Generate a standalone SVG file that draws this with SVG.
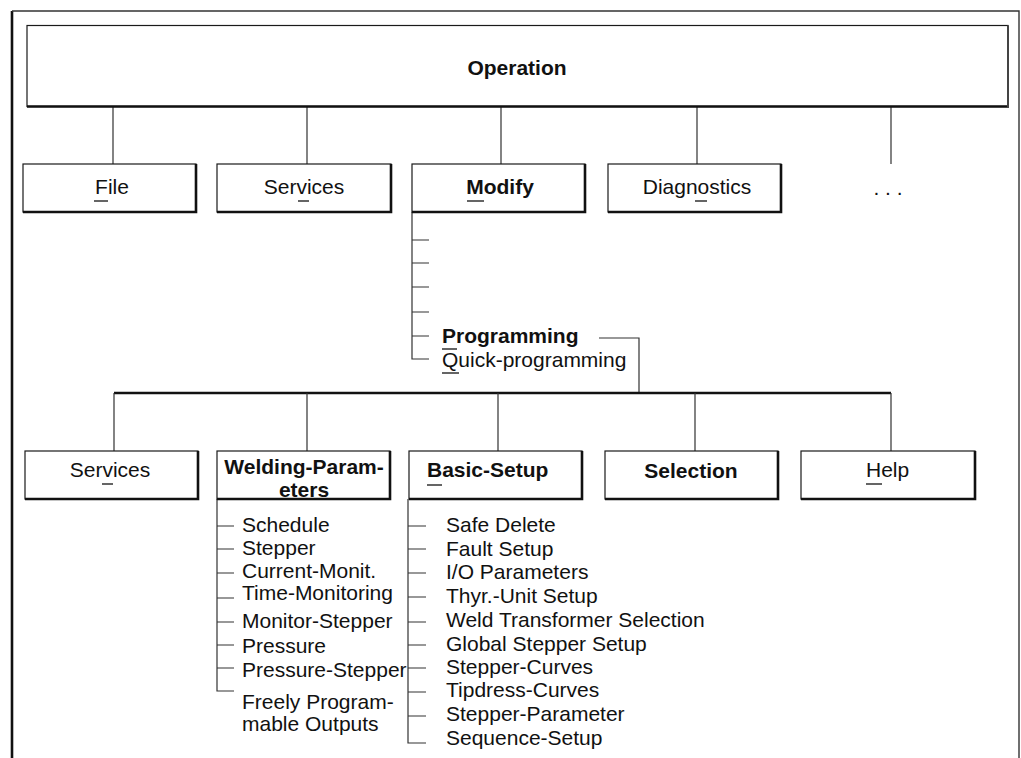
<svg xmlns="http://www.w3.org/2000/svg" width="1021" height="758" viewBox="0 0 1021 758">
  <style>
    .box { fill: #fff; stroke: #1a1a1a; stroke-width: 1.2; }
    .shade { fill: none; stroke: #111; stroke-width: 2.6; }
    .ln { fill: none; stroke: #333; stroke-width: 1.2; }
    .bus { fill: none; stroke: #111; stroke-width: 2.6; }
    .ul { fill: none; stroke: #111; stroke-width: 1.3; }
    text { font-family: "Liberation Sans", Arial, Helvetica, sans-serif; font-size: 21px; fill: #111; }
    .b { font-weight: bold; }
    .c { text-anchor: middle; }
  </style>

  <rect x="0" y="0" width="1021" height="758" fill="#fff"/>

  <!-- outer frame -->
  <g id="frame">
    <path d="M12,758 V11" fill="none" stroke="#111" stroke-width="2.6"/>
    <path d="M12,11 H1019 V758" fill="none" stroke="#333" stroke-width="1.4"/>
  </g>

  <!-- connectors -->
  <g id="connectors">
    <path class="ln" d="M113,107 V164 M307,107 V164 M501,107 V164 M697,107 V164 M891,107 V164"/>
    <!-- Modify submenu -->
    <path class="ln" d="M412,212 V359 H429 M412,240 H429 M412,263 H429 M412,287 H429 M412,312 H429 M412,336 H429"/>
    <!-- Programming to second level -->
    <path class="ln" d="M599,338 H639 V393"/>
    <path class="bus" d="M114,393 H891"/>
    <path class="ln" d="M114,393 V451 M307,393 V451 M498,393 V451 M695,393 V451 M891,393 V451"/>
    <!-- Welding-Parameters list -->
    <path class="ln" d="M217,499 V691 H234 M217,526 H234 M217,549 H234 M217,573 H234 M217,598 H234 M217,622 H234 M217,645 H234 M217,668 H234"/>
    <!-- Basic-Setup list -->
    <path class="ln" d="M408,499 V743 H426 M408,526 H426 M408,549 H426 M408,573 H426 M408,597 H426 M408,622 H426 M408,645 H426 M408,668 H426 M408,692 H426 M408,716 H426"/>
  </g>

  <g id="operation">
    <rect class="box" x="27" y="25.5" width="981" height="81"/>
    <path class="shade" d="M27,106.5 H1009"/>
    <path d="M1008,25.5 V107" fill="none" stroke="#444" stroke-width="2"/>
    <text class="b c" x="517" y="75">Operation</text>
  </g>

  <!-- first level -->
  <g id="file">
    <rect class="box" x="23" y="164" width="173" height="48"/>
    <path class="shade" d="M196,164 V212 H23"/>
    <text class="c" x="112" y="194">File</text>
    <path class="ul" d="M94,201 H108"/>
  </g>
  <g id="services1">
    <rect class="box" x="217" y="164" width="174" height="48"/>
    <path class="shade" d="M391,164 V212 H217"/>
    <text class="c" x="304" y="194">Services</text>
    <path class="ul" d="M298,201 H309"/>
  </g>
  <g id="modify">
    <rect class="box" x="412" y="164" width="173" height="48"/>
    <path class="shade" d="M585,164 V212 H412"/>
    <text class="b c" x="500" y="194">Modify</text>
    <path class="ul" d="M467,201 H484"/>
  </g>
  <g id="diagnostics">
    <rect class="box" x="608" y="164" width="173" height="48"/>
    <path class="shade" d="M781,164 V212 H608"/>
    <text class="c" x="697" y="194">Diagnostics</text>
    <path class="ul" d="M695,201 H707"/>
  </g>
  <g id="more">
    <text class="c" x="888" y="195">. . .</text>
  </g>

  <!-- Modify submenu entries -->
  <g id="programming">
    <text class="b" x="442" y="343">Programming</text>
    <path class="ul" d="M442,349 H457"/>
  </g>
  <g id="quick-programming">
    <text x="442" y="367">Quick-programming</text>
    <path class="ul" d="M442,373 H459"/>
  </g>

  <!-- second level -->
  <g id="services2">
    <rect class="box" x="25" y="451" width="173" height="48"/>
    <path class="shade" d="M198,451 V499 H25"/>
    <text class="c" x="110" y="477">Services</text>
    <path class="ul" d="M102,484 H113"/>
  </g>
  <g id="welding-parameters">
    <rect class="box" x="217" y="451" width="173" height="48"/>
    <path class="shade" d="M390,451 V499 H217"/>
    <text class="b c" x="304" y="474">Welding-Param-</text>
    <text class="b c" x="304" y="497">eters</text>
  </g>
  <g id="basic-setup">
    <rect class="box" x="409" y="451" width="173" height="48"/>
    <path class="shade" d="M582,451 V499 H409"/>
    <text class="b" x="427" y="477">Basic-Setup</text>
    <path class="ul" d="M427,485 H442"/>
  </g>
  <g id="selection">
    <rect class="box" x="605" y="451" width="173" height="48"/>
    <path class="shade" d="M778,451 V499 H605"/>
    <text class="b c" x="691" y="478">Selection</text>
  </g>
  <g id="help">
    <rect class="box" x="801" y="451" width="174" height="48"/>
    <path class="shade" d="M975,451 V499 H801"/>
    <text x="866" y="477">Help</text>
    <path class="ul" d="M866,484 H882"/>
  </g>

  <!-- Welding-Parameters entries -->
  <g id="welding-list">
    <text x="242" y="532">Schedule</text>
    <text x="242" y="555">Stepper</text>
    <text x="242" y="578">Current-Monit.</text>
    <text x="242" y="600">Time-Monitoring</text>
    <text x="242" y="628">Monitor-Stepper</text>
    <text x="242" y="653">Pressure</text>
    <text x="242" y="677">Pressure-Stepper</text>
    <text x="242" y="709">Freely Program-</text>
    <text x="242" y="731">mable Outputs</text>
  </g>

  <!-- Basic-Setup entries -->
  <g id="basic-list">
    <text x="446" y="532">Safe Delete</text>
    <text x="446" y="556">Fault Setup</text>
    <text x="446" y="579">I/O Parameters</text>
    <text x="446" y="603">Thyr.-Unit Setup</text>
    <text x="446" y="627">Weld Transformer Selection</text>
    <text x="446" y="651">Global Stepper Setup</text>
    <text x="446" y="674">Stepper-Curves</text>
    <text x="446" y="697">Tipdress-Curves</text>
    <text x="446" y="721">Stepper-Parameter</text>
    <text x="446" y="745">Sequence-Setup</text>
  </g>
</svg>
